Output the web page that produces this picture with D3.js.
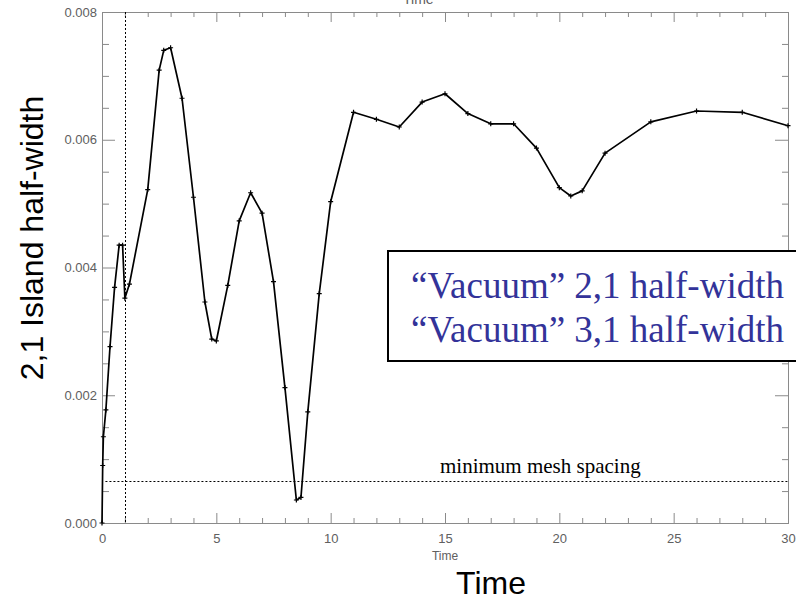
<!DOCTYPE html>
<html>
<head>
<meta charset="utf-8">
<script src="https://cdn.jsdelivr.net/npm/d3@7"></script>
<style>
  body { margin: 0; background: #fff; }
  svg { display: block; }
</style>
</head>
<body>
<script>
// island half-width vs time
var times = [0, 0.03, 0.06, 0.17, 0.35, 0.55, 0.75, 0.9, 1.0, 1.2, 2.0, 2.5, 2.7, 3.0, 3.5, 4.0, 4.5, 4.8, 5.0,
             5.5, 6.0, 6.5, 7.0, 7.5, 8.0, 8.5, 8.7, 9.0, 9.5, 10, 11, 12, 13, 14, 15, 16, 17, 18, 19, 20,
             20.5, 21, 22, 24, 26, 28, 30];
var halfWidth = [0, 0.0009, 0.00135, 0.00177, 0.00276, 0.00369, 0.00435, 0.00435, 0.00352, 0.00374, 0.00522,
                 0.00709, 0.0074, 0.00744, 0.00665, 0.0051, 0.00346, 0.00288, 0.00285, 0.00372, 0.00473,
                 0.00517, 0.00485, 0.00378, 0.00212, 0.00036, 0.0004, 0.00174, 0.00359, 0.00503, 0.00643,
                 0.00632, 0.0062, 0.00659, 0.00672, 0.00641, 0.00625, 0.00625, 0.00587, 0.00525, 0.00512,
                 0.0052, 0.00579, 0.00628, 0.00645, 0.00643, 0.00622];
var xMajor = [0, 5, 10, 15, 20, 25, 30];
var yMajor = [0, 0.002, 0.004, 0.006, 0.008];
var meshSpacing = 0.00066;
var markTime = 1;
var legendLines = ['\u201cVacuum\u201d 2,1 half-width', '\u201cVacuum\u201d 3,1 half-width'];

var w = 796, h = 599;
var plotL = 102, plotR = 788, plotT = 12, plotB = 523;
var axisGray = '#8a8a8a';
var labelGray = '#606060';

var svg = d3.select('body')
  .append('svg')
  .attr('width', w)
  .attr('height', h);

var x = d3.scaleLinear().domain([0, 30]).range([plotL, plotR]);
var y = d3.scaleLinear().domain([0, 0.008]).range([plotB, plotT]);

var xMinor = d3.range(0, 31, 1).filter(function(d) { return d % 5 !== 0; });
var yMinor = d3.range(0, 17, 1).filter(function(d) { return d % 4 !== 0; })
  .map(function(d) { return d * 0.0005; });

function styleAxis(g) {
  g.select('.domain').attr('stroke', axisGray);
  g.selectAll('.tick line').attr('stroke', axisGray);
  g.selectAll('.tick text')
    .attr('fill', labelGray)
    .attr('font-family', 'Liberation Sans, Arial, sans-serif')
    .attr('font-size', '13px');
}

// bottom
svg.append('g').attr('transform', 'translate(0,' + plotB + ')')
  .call(d3.axisBottom(x).tickValues(xMajor).tickSize(-10).tickPadding(11).tickFormat(d3.format('d')))
  .call(styleAxis);
svg.append('g').attr('transform', 'translate(0,' + plotB + ')')
  .call(d3.axisBottom(x).tickValues(xMinor).tickSize(-5).tickFormat(''))
  .call(styleAxis);
// top
svg.append('g').attr('transform', 'translate(0,' + plotT + ')')
  .call(d3.axisTop(x).tickValues(xMajor).tickSize(-10).tickFormat(''))
  .call(styleAxis);
svg.append('g').attr('transform', 'translate(0,' + plotT + ')')
  .call(d3.axisTop(x).tickValues(xMinor).tickSize(-5).tickFormat(''))
  .call(styleAxis);
// left
svg.append('g').attr('transform', 'translate(' + plotL + ',0)')
  .call(d3.axisLeft(y).tickValues(yMajor).tickSize(-13).tickPadding(5).tickFormat(d3.format('.3f')))
  .call(styleAxis);
svg.append('g').attr('transform', 'translate(' + plotL + ',0)')
  .call(d3.axisLeft(y).tickValues(yMinor).tickSize(-7).tickFormat(''))
  .call(styleAxis);
// right
svg.append('g').attr('transform', 'translate(' + plotR + ',0)')
  .call(d3.axisRight(y).tickValues(yMajor).tickSize(-13).tickFormat(''))
  .call(styleAxis);
svg.append('g').attr('transform', 'translate(' + plotR + ',0)')
  .call(d3.axisRight(y).tickValues(yMinor).tickSize(-6).tickFormat(''))
  .call(styleAxis);

// dotted reference lines
svg.append('line')
  .attr('x1', Math.round(x(markTime)) + 0.5).attr('x2', Math.round(x(markTime)) + 0.5)
  .attr('y1', y(0.008)).attr('y2', y(0))
  .attr('stroke', '#000').attr('stroke-width', 1).attr('stroke-dasharray', '2,2');
svg.append('line')
  .attr('x1', x(0.15)).attr('x2', x(30))
  .attr('y1', Math.round(y(meshSpacing)) + 0.5).attr('y2', Math.round(y(meshSpacing)) + 0.5)
  .attr('stroke', '#000').attr('stroke-width', 1).attr('stroke-dasharray', '2,2');

svg.append('text')
  .text('minimum mesh spacing')
  .attr('x', 440).attr('y', 473)
  .attr('font-family', 'Liberation Serif, Times New Roman, serif')
  .attr('font-size', '21px')
  .attr('fill', '#000');

// data line
var pts = times.map(function(t, i) { return [t, halfWidth[i]]; });
var line = d3.line()
  .x(function(d) { return x(d[0]); })
  .y(function(d) { return y(d[1]); });

svg.append('path')
  .datum(pts)
  .attr('d', line)
  .attr('fill', 'none')
  .attr('stroke', '#000')
  .attr('stroke-width', 1.7)
  .attr('stroke-linejoin', 'round');

svg.selectAll('path.mark')
  .data(pts)
  .enter()
  .append('path')
  .attr('class', 'mark')
  .attr('d', function(d) {
    var cx = x(d[0]), cy = y(d[1]);
    return 'M' + (cx - 2.5) + ',' + cy + 'H' + (cx + 2.5) + 'M' + cx + ',' + (cy - 2.5) + 'V' + (cy + 2.5);
  })
  .attr('stroke', '#000')
  .attr('stroke-width', 1.2);

// small axis titles
svg.append('text')
  .text('Time')
  .attr('x', 403).attr('y', 4)
  .attr('font-family', 'Liberation Sans, Arial, sans-serif')
  .attr('font-size', '14px')
  .attr('fill', labelGray);
svg.append('text')
  .text('Time')
  .attr('x', (plotL + plotR) / 2).attr('y', 560)
  .attr('text-anchor', 'middle')
  .attr('font-family', 'Liberation Sans, Arial, sans-serif')
  .attr('font-size', '12px')
  .attr('fill', labelGray);

// big labels
svg.append('text')
  .text('Time')
  .attr('x', 491).attr('y', 594)
  .attr('text-anchor', 'middle')
  .attr('font-family', 'Liberation Sans, Arial, sans-serif')
  .attr('font-size', '32px')
  .attr('fill', '#000');
svg.append('text')
  .text('2,1 Island half-width')
  .attr('transform', 'translate(43,238) rotate(-90)')
  .attr('text-anchor', 'middle')
  .attr('font-family', 'Liberation Sans, Arial, sans-serif')
  .attr('font-size', '32px')
  .attr('fill', '#000');

// legend box
svg.append('rect')
  .attr('x', 388).attr('y', 251)
  .attr('width', 420).attr('height', 110)
  .attr('fill', '#fff')
  .attr('stroke', '#000')
  .attr('stroke-width', 2);

svg.selectAll('text.legend')
  .data(legendLines)
  .enter()
  .append('text')
  .attr('class', 'legend')
  .text(function(d) { return d; })
  .attr('x', 411)
  .attr('y', function(d, i) { return 298 + i * 44; })
  .attr('font-family', 'Liberation Serif, Times New Roman, serif')
  .attr('font-size', '37px')
  .attr('fill', '#333399');
</script>
</body>
</html>
